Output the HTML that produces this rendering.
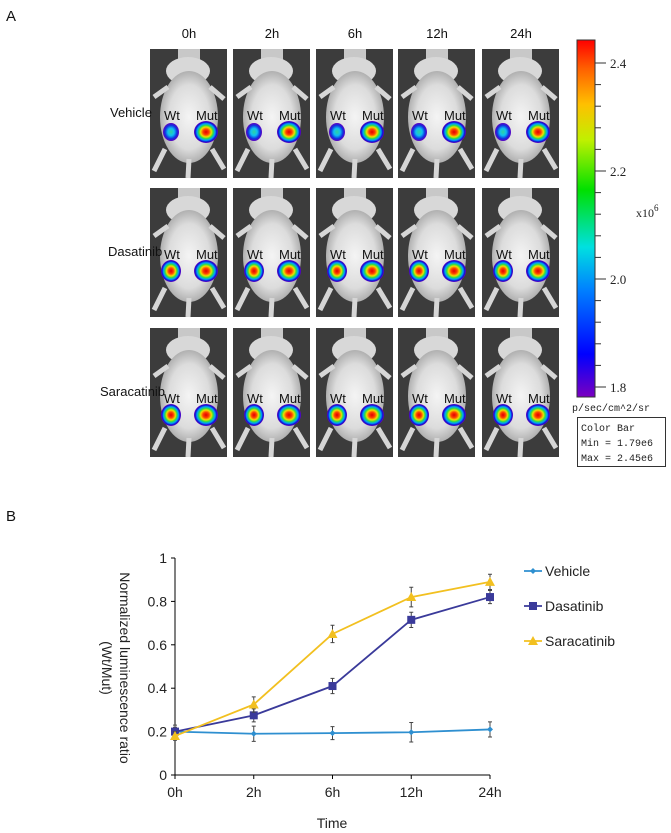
<!DOCTYPE html>
<html><head><meta charset="utf-8"><style>
body{margin:0;background:#fff;font-family:"Liberation Sans",Arial,sans-serif;}
#root{position:relative;width:671px;height:833px;overflow:hidden;background:#fff;}
.t{position:absolute;white-space:nowrap;color:#111;}
</style></head><body>
<div id="root">
<div class="t" style="left:6px;top:8px;font-size:15px">A</div>
<div class="t" style="left:6px;top:508px;font-size:15px">B</div>
<svg id="img" width="671" height="833" style="position:absolute;left:0;top:0">
<defs>
<radialGradient id="spot"><stop offset="0" stop-color="#e00000"/><stop offset="0.25" stop-color="#ff4000"/><stop offset="0.45" stop-color="#f0e000"/><stop offset="0.6" stop-color="#30e040"/><stop offset="0.75" stop-color="#00a0ff"/><stop offset="0.9" stop-color="#1010d0"/><stop offset="1" stop-color="#7000c0"/></radialGradient>
<radialGradient id="spot2"><stop offset="0" stop-color="#30d0a0"/><stop offset="0.4" stop-color="#10c0f0"/><stop offset="0.75" stop-color="#1030e0"/><stop offset="1" stop-color="#6000c0"/></radialGradient>
<radialGradient id="body"><stop offset="0" stop-color="#f4f4f4"/><stop offset="0.7" stop-color="#dcdcdc"/><stop offset="1" stop-color="#b0b0b0"/></radialGradient>
<linearGradient id="cbar" x1="0" y1="1" x2="0" y2="0"><stop offset="0" stop-color="#7a00c0"/><stop offset="0.12" stop-color="#0000ff"/><stop offset="0.3" stop-color="#0080ff"/><stop offset="0.42" stop-color="#00e0e0"/><stop offset="0.58" stop-color="#00e000"/><stop offset="0.72" stop-color="#c0f000"/><stop offset="0.82" stop-color="#ffc000"/><stop offset="0.92" stop-color="#ff6000"/><stop offset="1" stop-color="#ff0000"/></linearGradient>
</defs>
<g id="mice"></g>
<rect x="577" y="40" width="18" height="357" fill="url(#cbar)" stroke="#333" stroke-width="1"/>
<g id="cbticks"></g>
<text x="572" y="411" font-family="Liberation Mono,monospace" font-size="10" fill="#222">p/sec/cm^2/sr</text>
<rect x="577.5" y="417.5" width="88" height="49" fill="#fff" stroke="#333"/>
<text x="581" y="431" font-family="Liberation Mono,monospace" font-size="10" fill="#222">Color Bar</text>
<text x="581" y="446" font-family="Liberation Mono,monospace" font-size="10" fill="#222">Min = 1.79e6</text>
<text x="581" y="461" font-family="Liberation Mono,monospace" font-size="10" fill="#222">Max = 2.45e6</text>
<text x="636" y="217" font-family="Liberation Serif,serif" font-size="12" fill="#222">x10<tspan dy="-6" font-size="9">6</tspan></text>
</svg>
<svg id="chart" width="671" height="833" style="position:absolute;left:0;top:0"></svg>
</div>
<script>
const NS='http://www.w3.org/2000/svg';
function mk(p,tag,a){const e=document.createElementNS(NS,tag);for(const k in a)e.setAttribute(k,a[k]);p.appendChild(e);return e;}
// imaging grid
const timeLabels=['0h','2h','6h','12h','24h'];
const groups=['Vehicle','Dasatinib','Saracatinib'];
const colX=[150,233,316,398,482];
const rowY=[49,188,328];
const mice=document.getElementById('mice');
const root=document.getElementById('root');
colX.forEach((x,i)=>{
  const d=document.createElement('div');d.className='t';d.style.cssText=`left:${x}px;top:26px;width:78px;text-align:center;font-size:13px`;d.textContent=timeLabels[i];
  
  
  root.appendChild(d);
});
const rowLabelX=[110,108,100];
groups.forEach((g,r)=>{
  const d=document.createElement('div');d.className='t';d.style.cssText=`left:${rowLabelX[r]}px;top:${rowY[r]+56}px;font-size:13px`;d.textContent=g;
  
  
  root.appendChild(d);
  colX.forEach((x,c)=>{
    const y=rowY[r];
    const g2=mk(mice,'g',{});
    
    
    mk(g2,'rect',{x:x,y:y,width:77,height:129,fill:'#3c3c3c'});
    mk(g2,'rect',{x:x+28,y:y,width:22,height:14,fill:'#c8c8c8'});
    mk(g2,'ellipse',{cx:x+38,cy:y+22,rx:22,ry:14,fill:'#d8d8d8'});
    mk(g2,'ellipse',{cx:x+39,cy:y+68,rx:29,ry:46,fill:'url(#body)'});
    mk(g2,'path',{d:`M${x+15} ${y+100} L${x+4} ${y+122} M${x+62} ${y+100} L${x+74} ${y+120} M${x+39} ${y+110} L${x+38} ${y+129} M${x+18} ${y+38} L${x+4} ${y+48} M${x+60} ${y+38} L${x+74} ${y+50}`,stroke:'#d6d6d6','stroke-width':5,fill:'none'});
    const sy=y+(r==0?83:r==1?83:87);
    mk(g2,'ellipse',{cx:x+21,cy:sy,rx:r==0?8:10,ry:r==0?9:11,fill:r==0?'url(#spot2)':'url(#spot)'});
    mk(g2,'ellipse',{cx:x+56,cy:sy,rx:12,ry:11,fill:'url(#spot)'});
    mk(g2,'text',{x:x+14,y:sy-12,'font-size':13,fill:'#111','font-family':'Liberation Sans,sans-serif'}).textContent='Wt';
    mk(g2,'text',{x:x+46,y:sy-12,'font-size':13,fill:'#111','font-family':'Liberation Sans,sans-serif'}).textContent='Mut';
  });
});
const cb=document.getElementById('cbticks');
const cbLabels=['2.4','2.2','2.0','1.8'];const cbVals=[2.4,2.2,2.0,1.8];
const cbY=v=>387-(v-1.8)/0.6*(387-63);
cbVals.forEach((v,i)=>{
  mk(cb,'line',{x1:595,x2:606,y1:cbY(v),y2:cbY(v),stroke:'#333'});
  mk(cb,'text',{x:610,y:cbY(v)+5,'font-size':13,fill:'#222','font-family':'Liberation Serif,serif'}).textContent=cbLabels[i];
});
for(let k=0;k<16;k++){const yy=63+k*(387-63)/15;mk(cb,'line',{x1:595,x2:601,y1:yy,y2:yy,stroke:'#333'});}

// line chart
const categories=['0h','2h','6h','12h','24h'];
const vehicle=[0.20,0.19,0.193,0.197,0.21];
const vehicleErr=[0.03,0.035,0.03,0.045,0.035];
const dasatinib=[0.20,0.275,0.41,0.715,0.82];
const dasatinibErr=[0.02,0.03,0.035,0.035,0.03];
const saracatinib=[0.18,0.325,0.65,0.82,0.89];
const saracatinibErr=[0.02,0.035,0.04,0.045,0.035];
const yTicks=[0,0.2,0.4,0.6,0.8,1];
const yTickLabels=['0','0.2','0.4','0.6','0.8','1'];
const ch=document.getElementById('chart');
const X0=175,X1=490,Y0=775,Y1=558;
const xs=i=>X0+i*(X1-X0)/(categories.length-1);
const ys=v=>Y0-v*(Y0-Y1);
mk(ch,'line',{x1:X0,x2:X0,y1:Y1,y2:Y0,stroke:'#000'});
mk(ch,'line',{x1:X0,x2:X1,y1:Y0,y2:Y0,stroke:'#000'});
yTicks.forEach((v,i)=>{
  mk(ch,'line',{x1:X0-4,x2:X0,y1:ys(v),y2:ys(v),stroke:'#000'});
  const t=mk(ch,'text',{x:X0-8,y:ys(v)+5,'text-anchor':'end','font-size':14,fill:'#222'});t.textContent=yTickLabels[i];
  
  
});
categories.forEach((c,i)=>{
  mk(ch,'line',{x1:xs(i),x2:xs(i),y1:Y0,y2:Y0+4,stroke:'#000'});
  const t=mk(ch,'text',{x:xs(i),y:Y0+22,'text-anchor':'middle','font-size':14,fill:'#222'});t.textContent=c;
  
  
});
const xt=mk(ch,'text',{x:332,y:828,'text-anchor':'middle','font-size':14,fill:'#222'});xt.textContent='Time';


const yt=mk(ch,'text',{transform:'translate(120,668) rotate(90)','text-anchor':'middle','font-size':14,fill:'#222'});


mk(yt,'tspan',{x:0,dy:0}).textContent='Normalized luminescence ratio';
mk(yt,'tspan',{x:0,dy:18}).textContent='(Wt/Mut)';
const series=[
 {name:'Vehicle',vals:vehicle,err:vehicleErr,color:'#2e8fd0',mark:'diamond'},
 {name:'Dasatinib',vals:dasatinib,err:dasatinibErr,color:'#3a3a9a',mark:'square'},
 {name:'Saracatinib',vals:saracatinib,err:saracatinibErr,color:'#f2c020',mark:'triangle'}];
function marker(g,m,x,y,c,s){
  if(m==='diamond')mk(g,'path',{d:`M${x} ${y-s} L${x+s} ${y} L${x} ${y+s} L${x-s} ${y}Z`,fill:c});
  else if(m==='square')mk(g,'rect',{x:x-s,y:y-s,width:2*s,height:2*s,fill:c});
  else mk(g,'path',{d:`M${x} ${y-s-1} L${x+s+1} ${y+s} L${x-s-1} ${y+s}Z`,fill:c});
}
const legY=[571,606,641];
series.forEach((s,si)=>{
  const g=mk(ch,'g',{});
  
  
  s.vals.forEach((v,i)=>{
    const x=xs(i),e=s.err[i];
    mk(g,'path',{d:`M${x} ${ys(v+e)} V${ys(v-e)} M${x-2} ${ys(v+e)} H${x+2} M${x-2} ${ys(v-e)} H${x+2}`,stroke:'#444','stroke-width':1,fill:'none'});
  });
  mk(g,'polyline',{points:s.vals.map((v,i)=>xs(i)+','+ys(v)).join(' '),fill:'none',stroke:s.color,'stroke-width':1.8});
  s.vals.forEach((v,i)=>marker(g,s.mark,xs(i),ys(v),s.color,s.mark==='diamond'?3:4));
  const lg=mk(ch,'g',{});
  
  
  mk(lg,'line',{x1:524,x2:542,y1:legY[si],y2:legY[si],stroke:s.color,'stroke-width':1.8});
  marker(lg,s.mark,533,legY[si],s.color,s.mark==='diamond'?3:4);
  mk(lg,'text',{x:545,y:legY[si]+5,'font-size':14,fill:'#222'}).textContent=s.name;
});
</script>
</body></html>
